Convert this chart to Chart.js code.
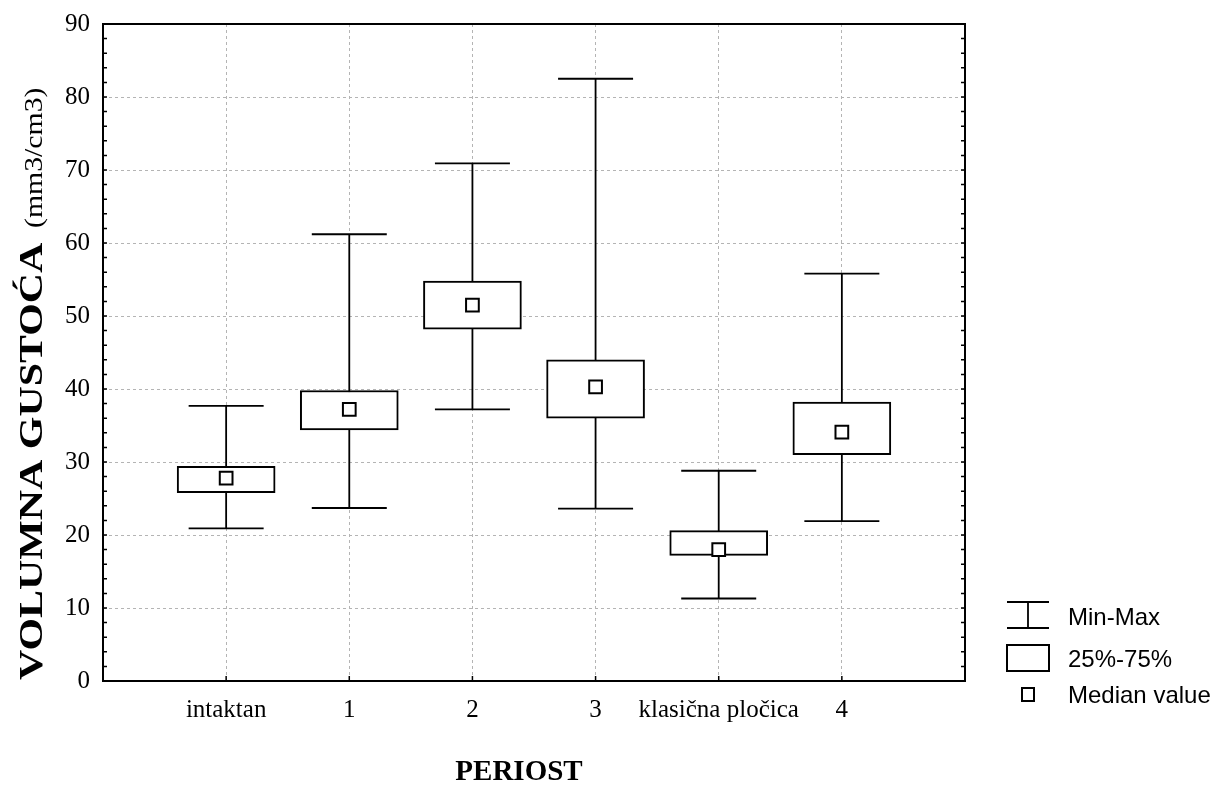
<!DOCTYPE html>
<html>
    <head>
        <meta charset="utf-8">
        <title>Volumna gustoća - periost</title>
        <script src="https://cdn.jsdelivr.net/npm/chart.js"></script>
        <style>
            body { margin: 0; background: #fff; }
        </style>
    </head>
    <body>
        <canvas id="grafica" width="1220" height="785"></canvas>
    <script>
        // Datos
        const categorias = ['intaktan', '1', '2', '3', 'klasična pločica', '4'];
        const minimos   = [20.9, 23.7, 37.2, 23.6, 11.3, 21.9];
        const q1        = [25.8, 34.4, 48.2, 36.0, 17.2, 31.0];
        const medianas  = [27.8, 37.2, 51.5, 40.3, 18.0, 34.1];
        const q3        = [29.4, 39.8, 54.8, 44.0, 20.6, 38.2];
        const maximos   = [37.7, 61.2, 70.9, 82.5, 28.8, 55.8];
        const yMin = 0, yMax = 90, yPaso = 10, yPasoMenor = 2;
        const leyenda = ['Min-Max', '25%-75%', 'Median value'];

        // etiquetas vacías en los extremos para dejar un hueco completo
        const etiquetas = [''].concat(categorias, ['']);
        const cajas = [null].concat(categorias.map((c, i) => [q1[i], q3[i]]), [null]);
        const puntosMediana = [null].concat(medianas, [null]);

        const serif = '"Liberation Serif", "Times New Roman", serif';
        const sans = '"Liberation Sans", Arial, sans-serif';

        // bigotes, marcas, marco, títulos y leyenda
        const dibujoExtra = {
            id: 'dibujoExtra',
            beforeDatasetsDraw(chart) {
                const ctx = chart.ctx, x = chart.scales.x, y = chart.scales.y;
                ctx.save();
                ctx.strokeStyle = '#000';
                ctx.lineWidth = 1.8;
                categorias.forEach((c, i) => {
                    const px = x.getPixelForValue(i + 1);
                    const pMin = y.getPixelForValue(minimos[i]);
                    const pMax = y.getPixelForValue(maximos[i]);
                    ctx.beginPath();
                    ctx.moveTo(px, pMin); ctx.lineTo(px, pMax);
                    ctx.moveTo(px - 37.5, pMin); ctx.lineTo(px + 37.5, pMin);
                    ctx.moveTo(px - 37.5, pMax); ctx.lineTo(px + 37.5, pMax);
                    ctx.stroke();
                });
                ctx.restore();
            },
            afterDraw(chart) {
                const ctx = chart.ctx, a = chart.chartArea, x = chart.scales.x, y = chart.scales.y;
                ctx.save();
                ctx.strokeStyle = '#000';

                // marco
                ctx.lineWidth = 2;
                ctx.strokeRect(a.left, a.top, a.right - a.left, a.bottom - a.top);

                // marcas menores hacia dentro
                ctx.lineWidth = 1.5;
                ctx.beginPath();
                for (let v = yMin; v <= yMax; v += yPasoMenor) {
                    const py = y.getPixelForValue(v);
                    ctx.moveTo(a.left, py); ctx.lineTo(a.left + 4, py);
                    ctx.moveTo(a.right, py); ctx.lineTo(a.right - 4, py);
                }
                categorias.forEach((c, i) => {
                    const px = x.getPixelForValue(i + 1);
                    ctx.moveTo(px, a.bottom); ctx.lineTo(px, a.bottom - 5);
                });
                ctx.stroke();

                // título eje x
                ctx.fillStyle = '#000';
                ctx.font = 'bold 29px ' + serif;
                ctx.textAlign = 'center';
                ctx.textBaseline = 'alphabetic';
                ctx.fillText('PERIOST', 519, 780);

                // título eje y (rotado)
                ctx.save();
                ctx.translate(42, 680);
                ctx.rotate(-Math.PI / 2);
                ctx.textAlign = 'left';
                ctx.save();
                ctx.scale(1.27, 1);
                ctx.font = 'bold 33px ' + serif;
                ctx.fillText('VOLUMNA GUSTOĆA', 0, 0);
                ctx.restore();
                ctx.save();
                ctx.translate(452, 0);
                ctx.scale(1.19, 1);
                ctx.font = '25px ' + serif;
                ctx.fillText('(mm3/cm3)', 0, 0);
                ctx.restore();
                ctx.restore();

                // leyenda
                const lx = 1028;
                ctx.lineWidth = 1.8;
                ctx.beginPath();
                ctx.moveTo(lx - 21, 602); ctx.lineTo(lx + 21, 602);
                ctx.moveTo(lx - 21, 628); ctx.lineTo(lx + 21, 628);
                ctx.moveTo(lx, 602); ctx.lineTo(lx, 628);
                ctx.stroke();
                ctx.lineWidth = 2;
                ctx.strokeRect(lx - 21, 645, 42, 26);
                ctx.strokeRect(lx - 6, 688, 12, 13);

                ctx.font = '24px ' + sans;
                ctx.textAlign = 'left';
                ctx.textBaseline = 'middle';
                ctx.fillText(leyenda[0], 1068, 618);
                ctx.fillText(leyenda[1], 1068, 660);
                ctx.fillText(leyenda[2], 1068, 696);
                ctx.restore();
            }
        };

        const config = {
            type: 'bar',
            data: {
                labels: etiquetas,
                datasets: [{
                    label: '25%-75%',
                    data: cajas,
                    backgroundColor: '#fff',
                    borderColor: '#000',
                    borderWidth: 2,
                    borderSkipped: false,
                    barThickness: 98,
                    order: 2
                }, {
                    type: 'line',
                    label: 'Median value',
                    data: puntosMediana,
                    showLine: false,
                    pointStyle: 'rect',
                    pointRadius: 9,
                    backgroundColor: '#fff',
                    borderColor: '#000',
                    borderWidth: 2,
                    order: 1
                }]
            },
            options: {
                responsive: false,
                devicePixelRatio: 1,
                animation: false,
                layout: { padding: { left: 0, right: 255, top: 24, bottom: 0 } },
                plugins: {
                    legend: { display: false },
                    tooltip: { enabled: false }
                },
                scales: {
                    x: {
                        offset: false,
                        grid: {
                            offset: false,
                            drawTicks: false,
                            color: '#b4b4b4',
                            lineWidth: 1
                        },
                        border: { display: false, dash: [3, 3] },
                        ticks: {
                            color: '#000',
                            font: { family: serif, size: 25 },
                            padding: 14,
                            maxRotation: 0,
                            autoSkip: false
                        },
                        afterFit(scale) {
                            scale.height = 104;
                            scale.paddingLeft = 0;
                            scale.paddingRight = 0;
                        }
                    },
                    y: {
                        min: yMin,
                        max: yMax,
                        grid: {
                            drawTicks: false,
                            color: '#b4b4b4',
                            lineWidth: 1
                        },
                        border: { display: false, dash: [3, 3] },
                        ticks: {
                            stepSize: yPaso,
                            color: '#000',
                            font: { family: serif, size: 25 },
                            padding: 13
                        },
                        afterFit(scale) {
                            scale.width = 103;
                            scale.paddingTop = 0;
                            scale.paddingBottom = 0;
                        }
                    }
                }
            },
            plugins: [dibujoExtra]
        };

        const grafica = new Chart(document.getElementById('grafica'), config);
    </script>
</body>
</html>
